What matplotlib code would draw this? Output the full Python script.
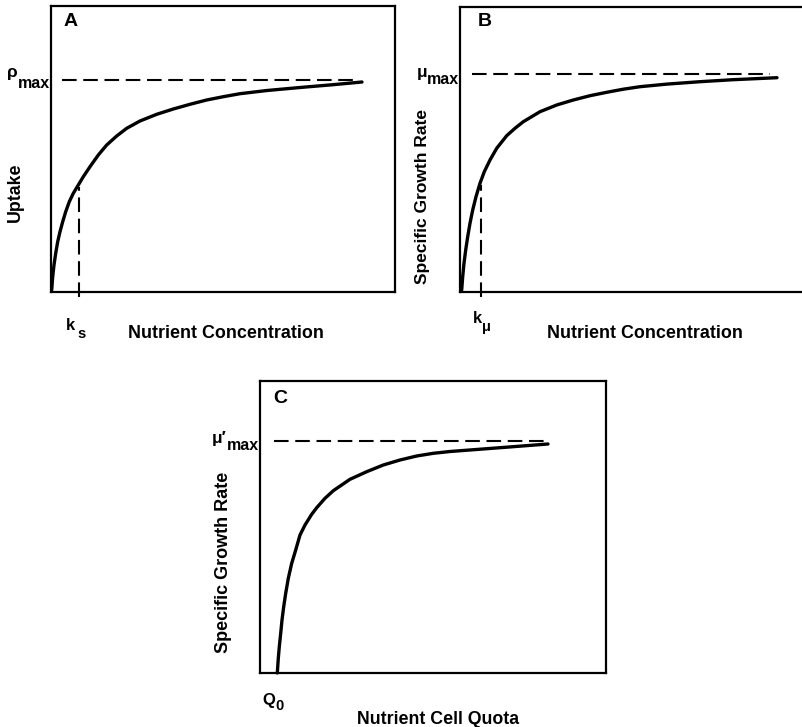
import matplotlib
matplotlib.use("Agg")
import matplotlib.pyplot as plt

plt.rcParams['font.family'] = ['Liberation Sans', 'DejaVu Sans']
plt.rcParams['font.weight'] = 'bold'

W, H = 802, 727

# ---- Data (units: axis pixels) ----
# Panel A: uptake vs nutrient concentration
a_x = [0.7, 1.7, 3, 4.7, 6.7, 9, 11.7, 14.7, 18.3, 22.3, 27.3, 32.3, 39, 47.3, 55.7, 65.7, 75.7,
       89, 105.7, 122.3, 139, 155.7, 172.3, 189, 216, 249, 282, 311]
a_y = [2, 15.3, 27, 38.7, 50.3, 60.3, 70.3, 80.3, 90.3, 98.7, 107, 115.3, 125.3, 137, 147, 156, 163.7,
       171, 177.7, 183, 187.7, 192, 195.3, 198.3, 201.5, 204.5, 207.3, 210]
a_max = 212
a_max_x = [11, 307]
a_k = 28
a_k_y = 105

# Panel B: specific growth rate vs nutrient concentration
b_x = [1.7, 2.7, 4, 5.7, 7.7, 10, 12.7, 16, 20, 24.3, 30, 36.7, 46.7, 55, 63.3, 80, 96.7, 113.3,
       130, 146.7, 163.3, 180, 207, 240, 273, 317]
b_y = [2, 15.3, 28.7, 42, 55.3, 68.7, 82, 95.3, 108.7, 120.3, 132, 143.7, 156.3, 163.7, 170.3, 180.3,
       187, 192, 196.3, 199.7, 202.8, 205.3, 207.9, 210.3, 212.3, 214.3]
b_max = 218
b_max_x = [11.7, 310]
b_k = 20.5
b_k_y = 107

# Panel C: specific growth rate vs nutrient cell quota
c_x = [17.3, 18.3, 19.3, 20.7, 22, 23.7, 25.7, 28.3, 31.7, 35.7, 40, 45, 51.7, 56.7, 65, 73.3, 90,
       106.7, 123.3, 140, 156.7, 173.3, 190, 240, 288]
c_y = [0, 14.7, 26.3, 39.7, 53, 66.3, 79.7, 94.7, 109.7, 123, 138, 148, 158.7, 165.3, 174.7, 182.3,
       193.7, 201.3, 208, 213, 217, 219.7, 221.5, 225.3, 229]
c_max = 232.3
c_max_x = [14, 286.7]

fig = plt.figure(figsize=(W / 100, H / 100), dpi=100)


def make_ax(left, top, right, bottom):
    ax = fig.add_axes([left / W, 1 - bottom / H, (right - left) / W, (bottom - top) / H])
    ax.set_xlim(0, right - left)
    ax.set_ylim(0, bottom - top)
    ax.set_xticks([])
    ax.set_yticks([])
    for s in ax.spines.values():
        s.set_linewidth(1.6)
    return ax


def ft(px, py, s, size=12.5, rot=0, ha='center', va='center'):
    fig.text(px / W, 1 - py / H, s, fontsize=size, rotation=rot, ha=ha, va=va,
             fontweight='bold', color='black')


dash = (0, (7, 3.2))
curve_lw = 2.4
dash_lw = 1.5

# Panel A
axA = make_ax(51, 6, 395, 292)
axA.plot(a_x, a_y, color='black', lw=curve_lw, solid_capstyle='round',
         solid_joinstyle='round', clip_on=False)
axA.plot(a_max_x, [a_max, a_max], color='black', lw=dash_lw, linestyle=dash)
axA.plot([a_k, a_k], [-5, a_k_y], color='black', lw=dash_lw, linestyle=dash, clip_on=False)

# Panel B
axB = make_ax(460, 7, 806, 292)
axB.plot(b_x, b_y, color='black', lw=curve_lw, solid_capstyle='round',
         solid_joinstyle='round', clip_on=False)
axB.plot(b_max_x, [b_max, b_max], color='black', lw=dash_lw, linestyle=dash)
axB.plot([b_k, b_k], [-5, b_k_y], color='black', lw=dash_lw, linestyle=dash, clip_on=False)

# Panel C
axC = make_ax(260, 381, 606, 673)
axC.plot(c_x, c_y, color='black', lw=curve_lw, solid_capstyle='round',
         solid_joinstyle='round', clip_on=False)
axC.plot(c_max_x, [c_max, c_max], color='black', lw=dash_lw, linestyle=dash)

# Panel letters
ft(71, 21, 'A', size=14)
ft(485, 21.5, 'B', size=14)
ft(280, 398.5, 'C', size=14)

# Axis titles
ft(15, 192, 'Uptake', rot=90, size=12.8)
ft(225.5, 333, 'Nutrient Concentration', size=12.9)
ft(422, 197, 'Specific Growth Rate', rot=90)
ft(645, 333, 'Nutrient Concentration', size=12.9)
ft(223, 562, 'Specific Growth Rate', rot=90, size=13)
ft(438, 719, 'Nutrient Cell Quota', size=12.8)

# Symbol labels
ft(12, 73, 'ρ', size=12.5)
ft(34, 84, 'max', size=11.5)
ft(70.5, 325.5, 'k', size=12)
ft(82, 334, 's', size=10.5)

ft(422, 73, 'μ', size=12.5)
ft(443, 80, 'max', size=11.5)
ft(477, 318.5, 'k', size=12)
ft(486.5, 327, 'μ', size=10.5)

ft(219, 439, 'μ\u2032', size=12.5)
ft(242.5, 445, 'max', size=11.5)
ft(269, 701, 'Q', size=12)
ft(279.5, 706, '0', size=10.5)

fig.savefig('out.png', dpi=100)
